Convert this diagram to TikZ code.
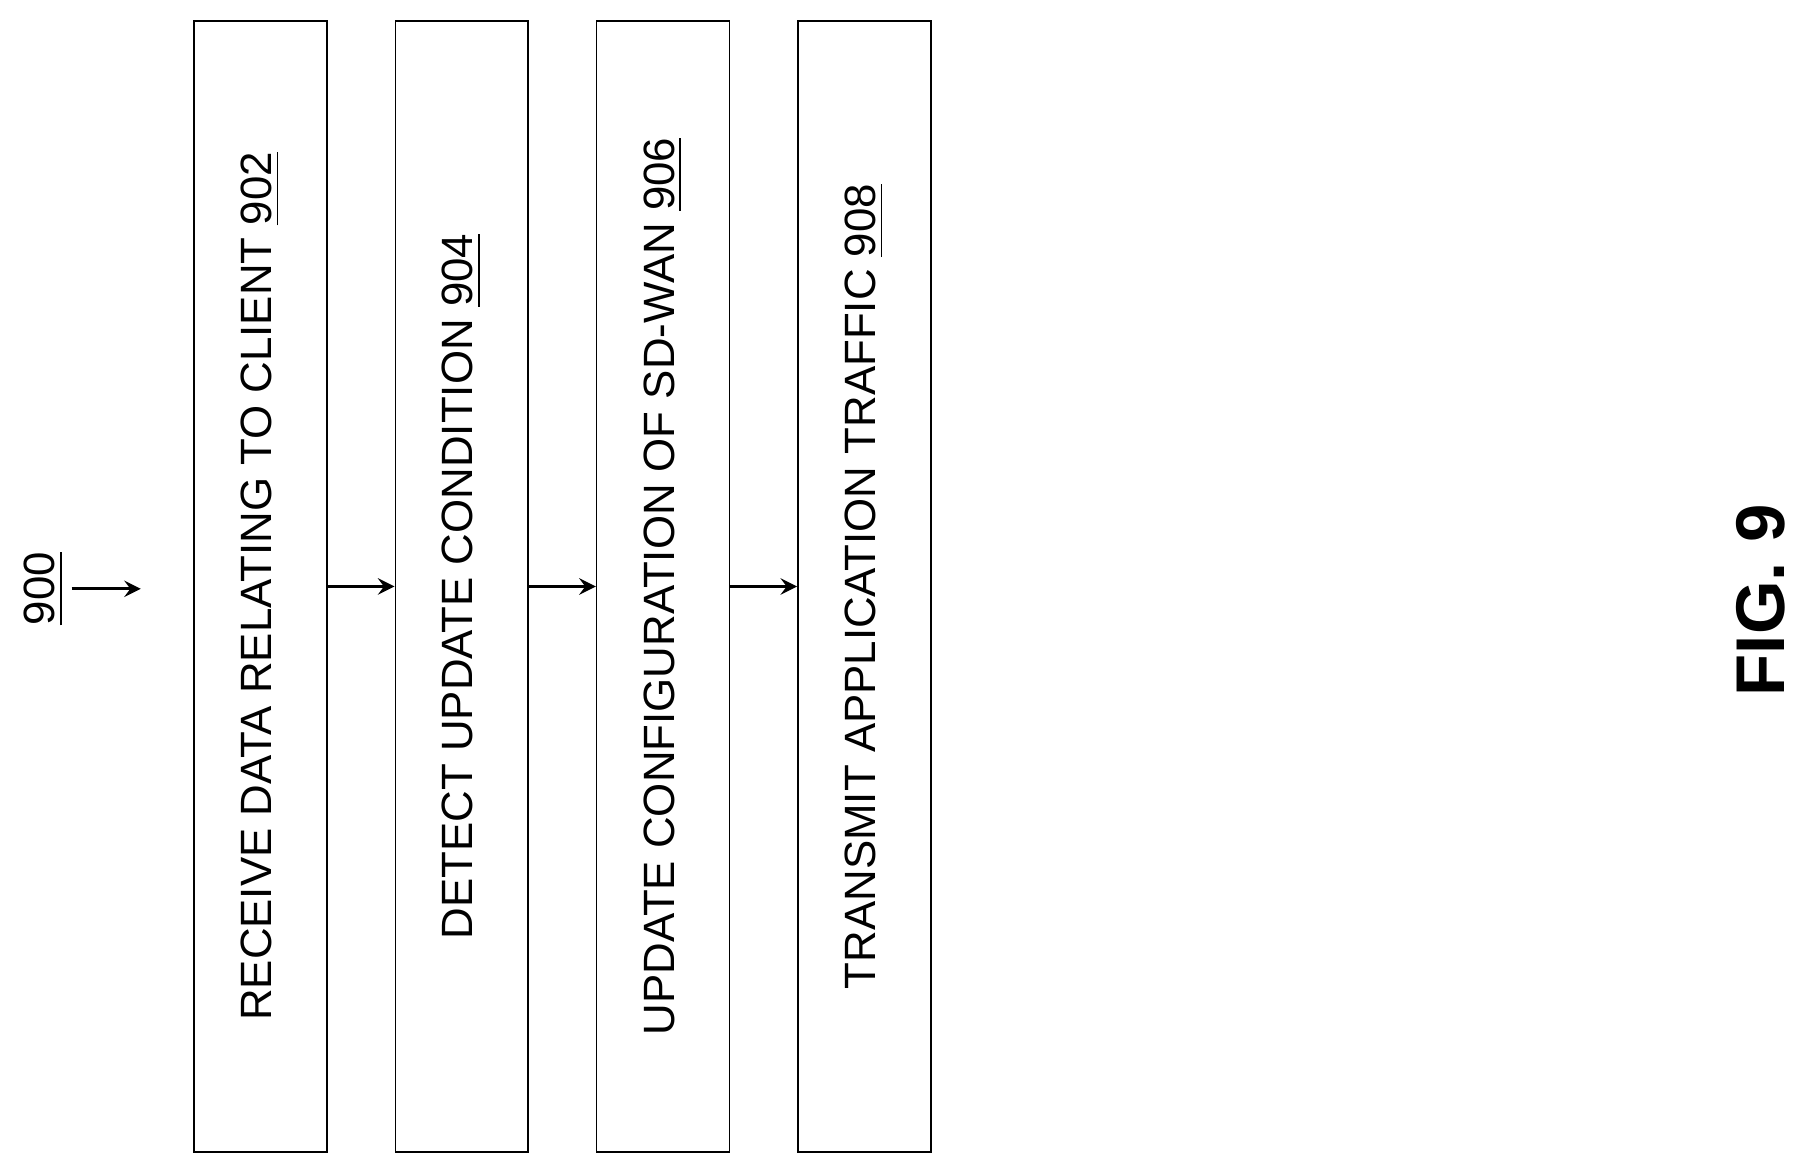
\documentclass[tikz,border=0pt]{standalone}
\usepackage{fontspec}
\setmainfont{Liberation Sans}
\usetikzlibrary{positioning}
\begin{document}
\begin{tikzpicture}[->,>=stealth,thick,
        stage/.style={draw,thin,minimum width=1.15cm,minimum height=9.8cm,inner sep=0pt},
        txt/.style={rotate=90,font=\fontsize{10.8}{12}\selectfont}]
    \useasboundingbox (0,0) rectangle (15.6,-10.1);

    \node[stage] (recv) at (2.255,-5.08) {};
    \node[stage] (detect) [right=0.58cm of recv] {};
    \node[stage] (conf) [right=0.58cm of detect] {};
    \node[stage] (send) [right=0.58cm of conf] {};

    \node[txt] at (recv) {RECEIVE DATA RELATING TO CLIENT \underline{902}};
    \node[txt] at (detect) {DETECT UPDATE CONDITION \underline{904}};
    \node[txt] at (conf) {UPDATE CONFIGURATION OF SD-WAN \underline{906}};
    \node[txt] at (send) {TRANSMIT APPLICATION TRAFFIC \underline{908}};

    \node[txt] (lbl) at (0.38,-5.1) {\underline{900}};
    \coordinate (start) at (0.62,-5.1);
    \coordinate (tip) at (1.22,-5.1);
    \draw (start) -- (tip);

    \draw (recv) -- (detect);
    \draw (detect) -- (conf);
    \draw (conf) -- (send);

    \node[rotate=90,font=\bfseries\fontsize{17}{20}\selectfont] (fig) at (15.25,-5.2) {FIG. 9};
\end{tikzpicture}
\end{document}
